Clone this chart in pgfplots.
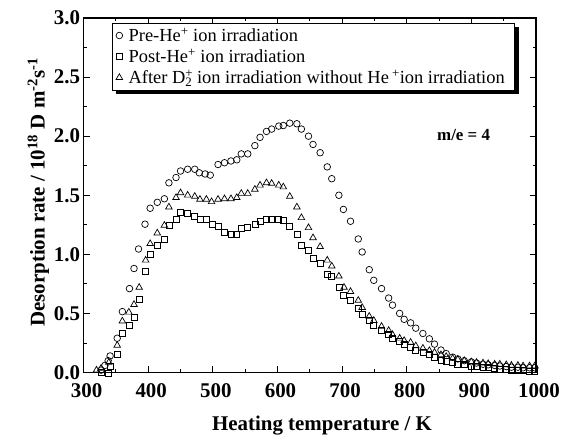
\documentclass[border=0pt]{standalone}
\usepackage{pgfplots}
\pgfplotsset{compat=1.18}
\usepackage{fontspec}
\setmainfont{Liberation Serif}
\usetikzlibrary{shadows}

\pgfplotstableread{
T rate
327 0.02
333 0.06
338 0.10
341 0.14
352 0.29
360 0.515
371 0.71
378 0.88
385 1.045
395 1.255
403 1.39
414 1.44
425 1.47
432 1.605
443 1.65
450 1.705
461 1.72
472 1.72
479 1.69
488 1.68
496 1.67
508 1.76
518 1.775
528 1.79
537 1.80
544 1.85
554 1.85
565 1.92
573 1.99
583 2.04
591 2.06
602 2.085
609 2.09
619 2.11
630 2.105
637 2.06
648 2.00
655 1.93
666 1.86
677 1.74
684 1.64
695 1.50
702 1.38
713 1.28
725 1.13
731 1.02
742 0.87
749 0.78
761 0.71
772 0.63
778 0.57
789 0.50
796 0.45
806 0.42
814 0.375
825 0.33
835 0.285
843 0.24
853 0.19
861 0.16
871 0.13
879 0.115
889 0.10
900 0.09
908 0.08
918 0.07
926 0.065
936 0.06
944 0.055
954 0.05
962 0.045
972 0.045
980 0.04
990 0.04
998 0.04
}\pre

\pgfplotstableread{
T rate
327 0.00
338 -0.01
341 0.05
352 0.15
360 0.33
371 0.40
378 0.47
386 0.62
396 0.86
403 1.00
414 1.08
425 1.13
432 1.245
443 1.30
450 1.355
461 1.345
472 1.32
480 1.30
490 1.295
499 1.25
508 1.24
518 1.19
528 1.17
537 1.17
544 1.22
554 1.23
565 1.255
573 1.28
583 1.30
591 1.30
602 1.30
609 1.285
619 1.235
630 1.165
637 1.08
648 1.03
655 0.97
666 0.92
677 0.83
684 0.81
695 0.72
702 0.65
712 0.61
725 0.545
731 0.495
742 0.445
749 0.40
761 0.36
772 0.32
778 0.29
789 0.26
796 0.235
806 0.215
814 0.19
825 0.17
835 0.15
843 0.13
853 0.107
861 0.093
871 0.085
879 0.073
889 0.065
900 0.055
908 0.05
918 0.045
926 0.04
936 0.035
944 0.03
954 0.025
962 0.02
972 0.02
980 0.015
990 0.01
998 0.01
}\post

\pgfplotstableread{
T rate
320 0.02
327 0.035
339 0.085
352 0.23
360 0.435
370 0.51
378 0.575
386 0.72
396 0.95
403 1.09
414 1.18
425 1.245
432 1.40
443 1.48
450 1.52
461 1.50
472 1.49
480 1.465
490 1.465
498 1.445
508 1.465
518 1.47
528 1.47
537 1.48
544 1.515
554 1.515
565 1.55
573 1.585
583 1.605
591 1.60
602 1.585
609 1.57
619 1.49
630 1.40
637 1.31
648 1.225
655 1.14
666 1.065
677 0.95
684 0.90
695 0.815
703 0.72
713 0.685
725 0.61
731 0.55
742 0.475
749 0.44
761 0.39
772 0.355
778 0.32
789 0.29
796 0.27
806 0.255
814 0.225
825 0.205
835 0.185
843 0.17
853 0.15
861 0.135
871 0.12
879 0.11
889 0.10
900 0.09
908 0.085
918 0.08
926 0.075
936 0.07
944 0.07
954 0.065
962 0.06
972 0.06
980 0.055
990 0.055
998 0.055
}\nohe

\begin{document}
\begin{tikzpicture}
\useasboundingbox (-83.6bp,-67.5bp) rectangle (493.4bp,372.5bp);
\begin{axis}[
    scale only axis,
    width=452.4bp, height=354.5bp,
    xmin=300, xmax=1000, ymin=0, ymax=3,
    xtick={300,400,...,1000},
    ytick={0,0.5,1,1.5,2,2.5,3},
    minor x tick num=1, minor y tick num=1,
    tick align=inside, tick pos=both,
    major tick length=6bp, minor tick length=3bp,
    axis line style={line width=1.3bp},
    every tick/.style={black, line width=0.9bp},
    clip=false,
    tick label style={font=\bfseries\fontsize{21}{21}\selectfont},
    /pgf/number format/assume math mode=true,
    /pgf/number format/1000 sep={},
    yticklabel style={/pgf/number format/.cd, fixed, fixed zerofill, precision=1},
    xticklabel style={yshift=-8bp, xshift=3bp},
    xlabel={Heating temperature / K},
    ylabel={Desorption rate / 10\textsuperscript{18} D m\textsuperscript{-2}s\textsuperscript{-1}},
    xlabel style={font=\bfseries\fontsize{21}{21}\selectfont, at={(axis description cs:0.527,-0.15)}, anchor=center},
    ylabel style={font=\bfseries\fontsize{21}{21}\selectfont, at={(axis description cs:-0.1,0.508)}, anchor=center},
    legend cell align=left,
    legend style={at={(axis description cs:0.062,0.987)}, anchor=north west,
        draw=black, line width=0.8bp, fill=white,
        font=\fontsize{18.5}{18.5}\selectfont,
        drop shadow={shadow xshift=4bp, shadow yshift=-4bp, opacity=1, fill=black},
        row sep=2bp, inner xsep=4bp, inner ysep=3bp,
        nodes={inner xsep=6bp}},
]
\addplot[only marks, black, mark=o, mark size=3.3bp, mark options={line width=0.7bp}] table[x=T, y=rate] {\pre};
\addlegendentry{Pre-He\textsuperscript{+} ion irradiation}
\addplot[only marks, black, mark=square, mark size=3bp, mark options={line width=0.7bp}] table[x=T, y=rate] {\post};
\addlegendentry{Post-He\textsuperscript{+} ion irradiation}
\addplot[only marks, black, mark=triangle, mark size=3.8bp, mark options={line width=0.7bp}] table[x=T, y=rate] {\nohe};
\addlegendentry{After D\rlap{\textsuperscript{+}}\textsubscript{2} ion irradiation without He\,\textsuperscript{+}ion irradiation}
\node[font=\bfseries\fontsize{17}{17}\selectfont] at (axis cs:888,2.01) {m/e = 4};
\end{axis}
\end{tikzpicture}
\end{document}
